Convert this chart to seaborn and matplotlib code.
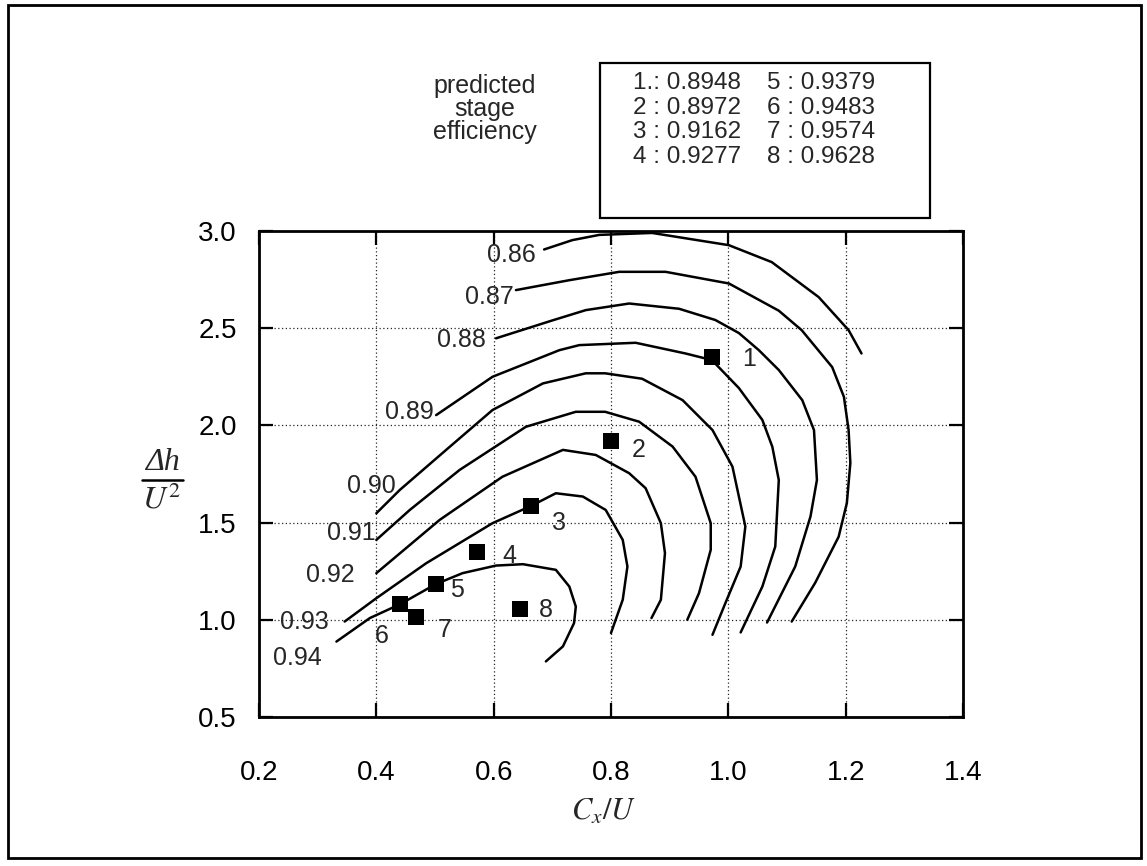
import numpy as np
import pandas as pd
import matplotlib
matplotlib.use("Agg")
import matplotlib.pyplot as plt
import matplotlib.patches as mpatches
import matplotlib.lines as mlines
import seaborn as sns

# ---------------- data ----------------
levels = [0.86, 0.87, 0.88, 0.89, 0.90, 0.91, 0.92, 0.93, 0.94]

c086_x = [0.686, 0.734, 0.780, 0.870, 1.001, 1.074, 1.154, 1.205, 1.227]
c086_y = [2.905, 2.953, 2.980, 2.990, 2.927, 2.840, 2.660, 2.490, 2.370]

c087_x = [0.638, 0.729, 0.814, 0.893, 1.001, 1.086, 1.125, 1.177, 1.197, 1.205, 1.208, 1.202, 1.188, 1.148, 1.108]
c087_y = [2.696, 2.747, 2.790, 2.790, 2.730, 2.590, 2.490, 2.300, 2.147, 1.976, 1.807, 1.600, 1.427, 1.190, 0.991]

c088_x = [0.604, 0.700, 0.757, 0.831, 0.916, 0.978, 1.018, 1.052, 1.086, 1.126, 1.146, 1.151, 1.140, 1.114, 1.066]
c088_y = [2.448, 2.540, 2.593, 2.627, 2.600, 2.542, 2.475, 2.387, 2.285, 2.130, 1.976, 1.719, 1.531, 1.274, 0.986]

c089_x = [0.502, 0.598, 0.712, 0.746, 0.842, 0.927, 0.972, 1.018, 1.058, 1.075, 1.086, 1.080, 1.058, 1.021]
c089_y = [2.053, 2.250, 2.387, 2.413, 2.425, 2.370, 2.336, 2.192, 2.028, 1.890, 1.719, 1.377, 1.171, 0.935]

c090_x = [0.400, 0.440, 0.519, 0.598, 0.684, 0.757, 0.790, 0.853, 0.922, 0.973, 1.007, 1.029, 1.021, 0.995, 0.973]
c090_y = [1.548, 1.668, 1.874, 2.079, 2.216, 2.268, 2.268, 2.240, 2.130, 1.976, 1.788, 1.480, 1.274, 1.086, 0.923]

c091_x = [0.400, 0.457, 0.542, 0.655, 0.740, 0.790, 0.848, 0.905, 0.944, 0.970, 0.970, 0.950, 0.930]
c091_y = [1.411, 1.565, 1.771, 1.993, 2.070, 2.070, 2.019, 1.891, 1.736, 1.497, 1.360, 1.137, 1.000]

c092_x = [0.400, 0.508, 0.615, 0.718, 0.774, 0.831, 0.859, 0.885, 0.892, 0.885, 0.869]
c092_y = [1.240, 1.514, 1.736, 1.874, 1.848, 1.754, 1.677, 1.497, 1.343, 1.103, 1.009]

c093_x = [0.346, 0.400, 0.485, 0.598, 0.664, 0.706, 0.752, 0.791, 0.820, 0.828, 0.820, 0.800]
c093_y = [0.991, 1.111, 1.291, 1.497, 1.586, 1.651, 1.634, 1.565, 1.411, 1.274, 1.103, 0.932]

c094_x = [0.332, 0.389, 0.441, 0.501, 0.547, 0.604, 0.650, 0.706, 0.729, 0.740, 0.737, 0.718, 0.689]
c094_y = [0.888, 1.009, 1.081, 1.183, 1.240, 1.279, 1.286, 1.257, 1.171, 1.068, 0.983, 0.863, 0.786]

contour_x = [c086_x, c087_x, c088_x, c089_x, c090_x, c091_x, c092_x, c093_x, c094_x]
contour_y = [c086_y, c087_y, c088_y, c089_y, c090_y, c091_y, c092_y, c093_y, c094_y]

point_ids = [1, 2, 3, 4, 5, 6, 7, 8]
point_x = [0.972, 0.800, 0.664, 0.572, 0.501, 0.441, 0.468, 0.645]
point_y = [2.353, 1.920, 1.586, 1.348, 1.183, 1.081, 1.014, 1.055]
efficiency = ["0.8948", "0.8972", "0.9162", "0.9277", "0.9379", "0.9483", "0.9574", "0.9628"]

x_ticks = [0.2, 0.4, 0.6, 0.8, 1.0, 1.2, 1.4]
y_ticks = [0.5, 1.0, 1.5, 2.0, 2.5, 3.0]
x_ticklabels = ["0.2", "0.4", "0.6", "0.8", "1.0", "1.2", "1.4"]
y_ticklabels = ["0.5", "1.0", "1.5", "2.0", "2.5", "3.0"]

# ---------------- layout / style ----------------
label_offsets = [(-33, -6), (-27, -7), (-35, -2), (-27, 3), (-5, 27),
                 (-25, 7), (-46, -2), (-40, 0), (-39, -16)]
id_offsets = [(37, -2), (28, -9), (28, -17), (32, -4), (21, -6),
              (-19, -32), (28, -13), (26, -1)]

sns.set_style("ticks")
plt.rcParams["font.family"] = ["Liberation Sans", "DejaVu Sans"]
plt.rcParams["mathtext.fontset"] = "stix"

W, H = 1147, 866
fig = plt.figure(figsize=(W / 100, H / 100), dpi=100)
ax = fig.add_axes([259 / W, 1 - 717 / H, (963 - 259) / W, (717 - 231) / H])

rows = []
for lev, xs, ys in zip(levels, contour_x, contour_y):
    for i, (xv, yv) in enumerate(zip(xs, ys)):
        rows.append({"level": f"{lev:.2f}", "order": i, "x": xv, "y": yv})
df = pd.DataFrame(rows)

sns.lineplot(data=df, x="x", y="y", units="level", estimator=None, sort=False,
             color="black", lw=1.8, ax=ax, legend=False)

sns.scatterplot(x=point_x, y=point_y, marker="s", s=125, color="black",
                edgecolor="black", linewidth=0, ax=ax, zorder=5, legend=False)

# contour labels
for lev, xs, ys, off in zip(levels, contour_x, contour_y, label_offsets):
    ax.annotate(f"{lev:.2f}", (xs[0], ys[0]), xytext=off, textcoords="offset pixels",
                ha="center", va="center", fontsize=18)

# point number labels
for pid, xv, yv, off in zip(point_ids, point_x, point_y, id_offsets):
    ax.annotate(str(pid), (xv, yv), xytext=off, textcoords="offset pixels",
                ha="center", va="center", fontsize=18)

ax.set_xlim(0.2, 1.4)
ax.set_ylim(0.5, 3.0)
ax.set_xticks(x_ticks)
ax.set_xticklabels(x_ticklabels)
ax.set_yticks(y_ticks)
ax.set_yticklabels(y_ticklabels)
ax.grid(True, color="0.15", linestyle=(0, (1, 2)), linewidth=0.9)
ax.tick_params(axis="both", direction="in", length=10, width=1.6,
               top=True, right=True, labelsize=20, colors="black")
ax.tick_params(axis="x", pad=31)
ax.tick_params(axis="y", pad=16)
for sp in ax.spines.values():
    sp.set_visible(True)
    sp.set_linewidth(2.0)
    sp.set_color("black")

ax.set_xlabel(r"$C_x/U$", fontsize=22)
ax.xaxis.set_label_coords((604 - 259) / 704, (717 - 812) / 486)
ax.xaxis.label.set_va("center")
ax.set_ylabel("")

# y label drawn as a stacked fraction: italic "Δh" over "U²"
fig.text(162 / W, 1 - 462 / H, "\u0394h", ha="center", va="center", fontsize=23,
         family=["Liberation Serif", "DejaVu Serif"], style="italic")
fig.lines.append(mlines.Line2D([142 / W, 183 / W], [1 - 480 / H, 1 - 480 / H],
                               transform=fig.transFigure, color="black", lw=1.8))
fig.text(162 / W, 1 - 500 / H, r"$U^2$", ha="center", va="center", fontsize=23)

# annotation text and legend box
fig.text(485 / W, 1 - 109 / H, "predicted\nstage\nefficiency", ha="center", va="center",
         fontsize=18, linespacing=0.95)
fig.patches.append(mpatches.Rectangle((600 / W, 1 - 218 / H), (930 - 600) / W, (218 - 63) / H,
                                      transform=fig.transFigure, fill=False,
                                      edgecolor="black", linewidth=1.6))
row_y = [83, 108, 132, 157]
for i in range(4):
    left_txt = f"{point_ids[i]}{'.' if i == 0 else ' '}: {efficiency[i]}"
    right_txt = f"{point_ids[i + 4]} : {efficiency[i + 4]}"
    fig.text(633 / W, 1 - row_y[i] / H, left_txt, ha="left", va="center", fontsize=17.5)
    fig.text(767 / W, 1 - row_y[i] / H, right_txt, ha="left", va="center", fontsize=17.5)

# outer frame
fig.patches.append(mpatches.Rectangle((8 / W, 8 / H), (1141 - 8) / W, (861 - 8) / H,
                                      transform=fig.transFigure, fill=False,
                                      edgecolor="black", linewidth=2.0))

fig.savefig("out.png", dpi=100)
